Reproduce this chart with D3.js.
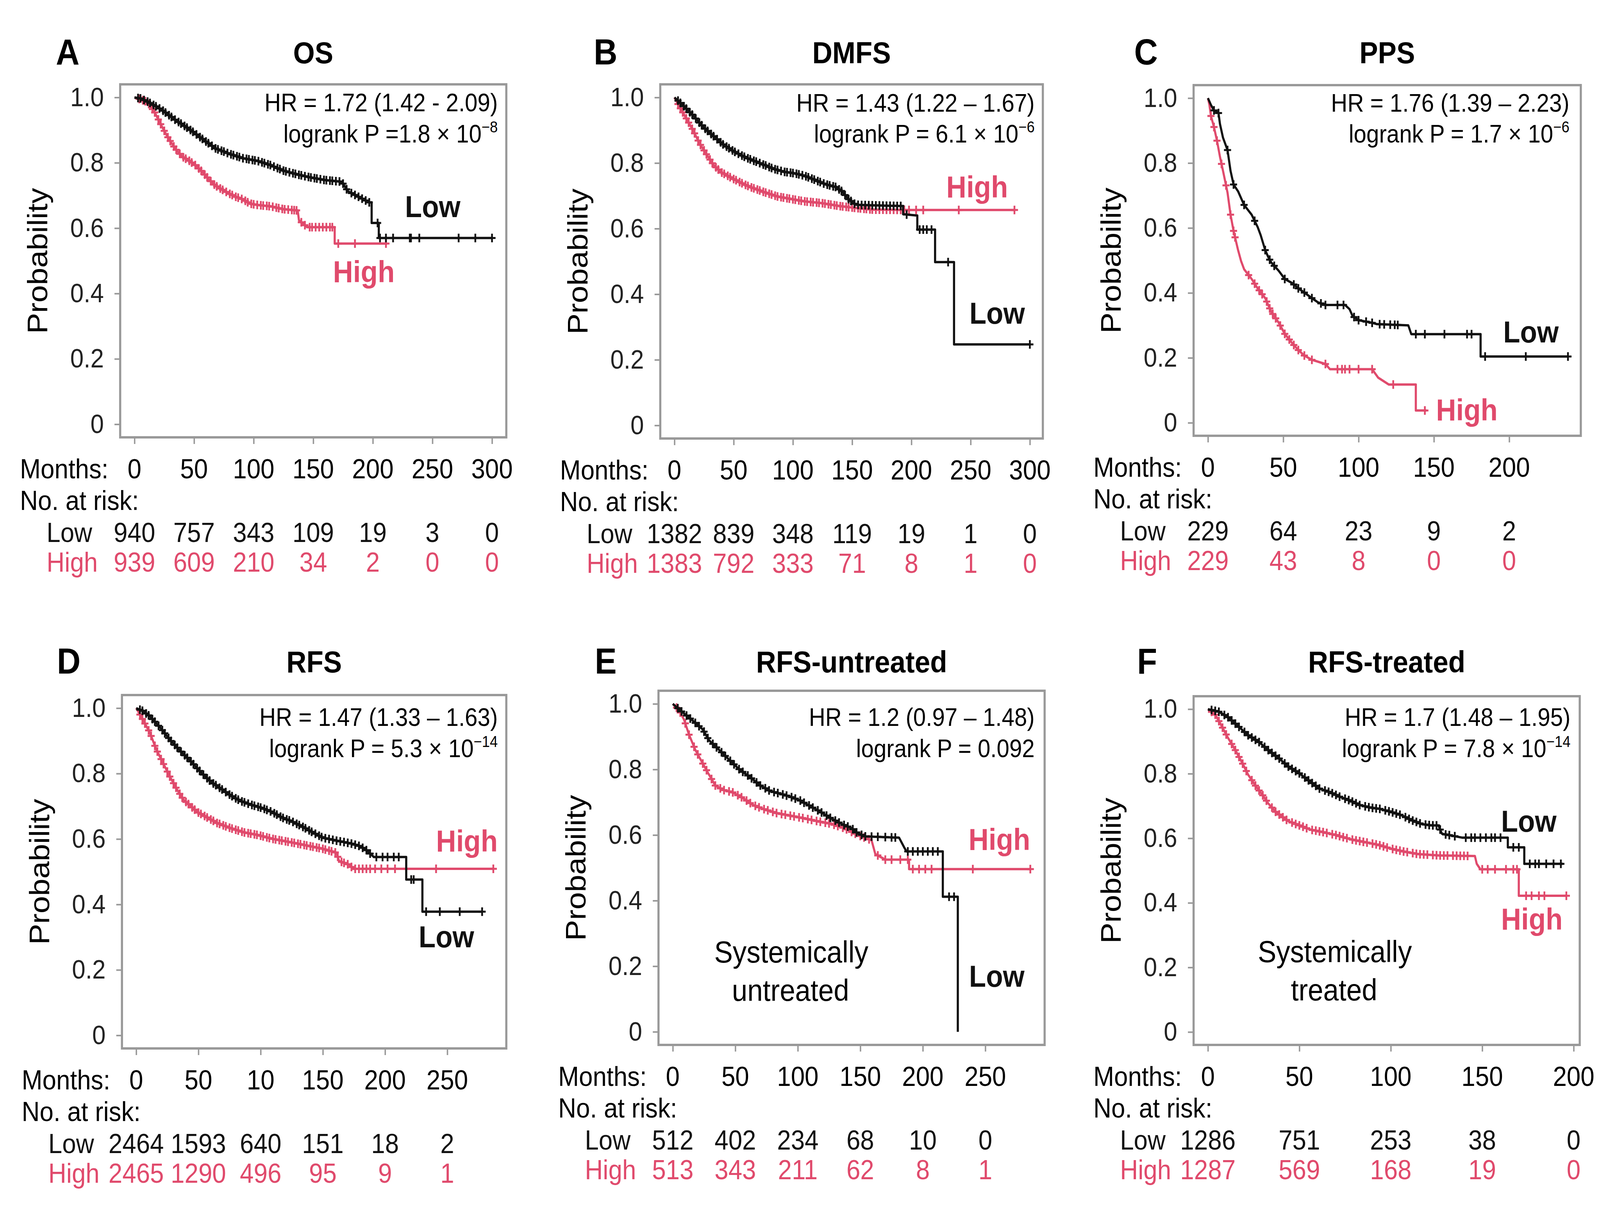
<!DOCTYPE html>
<html>
<head>
<meta charset="utf-8">
<script src="https://cdnjs.cloudflare.com/ajax/libs/d3/7.8.5/d3.min.js"></script>
<style>
  html, body { margin: 0; padding: 0; background: #fff; overflow: hidden; }
  #chart { display: block; width: 100vw; height: 100vh; }
  text { font-family: "Liberation Sans", Arial, sans-serif; }
</style>
</head>
<body>
<svg id="chart" viewBox="0 0 4500 3150" preserveAspectRatio="none"></svg>
<script>
// curves: [months, survival probability]
const osLow = [[0,1],[5,0.997],[11,0.987],[17,0.975],[23,0.962],[34,0.932],[46,0.903],[57,0.873],[68,0.844],[80,0.827],[91,0.814],[103,0.806],[114,0.793],[125,0.776],[137,0.764],[148,0.755],[160,0.747],[174,0.742],[179,0.713],[188,0.696],[197,0.679],[199,0.679],[199,0.616],[205,0.616],[205,0.570],[300,0.570]];
const osHigh = [[0,1],[6,0.993],[11,0.985],[17,0.954],[23,0.911],[28,0.878],[34,0.844],[40,0.819],[46,0.806],[51,0.793],[57,0.772],[63,0.747],[68,0.730],[74,0.717],[80,0.705],[85,0.696],[91,0.688],[97,0.675],[103,0.671],[114,0.667],[125,0.658],[137,0.654],[138,0.624],[145,0.603],[168,0.603],[168,0.553],[212,0.553]];
const osLowCens = [3,5,8,11,13,16,18,21,24,26,29,31,34,37,39,42,44,47,49,52,55,57,60,62,65,68,70,73,75,78,81,83,86,88,91,94,96,99,101,104,107,109,112,114,117,120,122,125,127,130,133,135,138,140,143,146,148,151,153,156,159,161,164,166,169,172,175,178,182,185,188,191,194,197,204,206,211,217,231,232,239,272,286,300];
const osHighCens = [4,7,9,12,15,17,20,22,25,28,30,33,35,38,41,43,46,48,51,54,56,59,61,64,67,69,72,74,77,80,82,85,87,90,93,95,98,100,103,106,108,111,113,116,119,121,124,126,129,132,134,136,140,143,147,149,152,155,158,161,164,166,171,185,211];

const dmfsLow = [[0,1],[7,0.977],[16,0.944],[24,0.911],[33,0.882],[41,0.857],[50,0.836],[59,0.819],[67,0.807],[76,0.794],[84,0.782],[93,0.773],[101,0.769],[110,0.761],[119,0.748],[127,0.736],[136,0.727],[141,0.715],[147,0.690],[153,0.673],[159,0.672],[190,0.669],[193,0.669],[193,0.644],[205,0.640],[205,0.597],[220,0.597],[220,0.498],[236,0.498],[236,0.247],[300,0.247]];
const dmfsHigh = [[0,1],[4,0.973],[10,0.936],[16,0.898],[21,0.861],[27,0.827],[33,0.794],[39,0.773],[47,0.757],[56,0.740],[64,0.727],[76,0.711],[87,0.698],[99,0.690],[110,0.683],[124,0.678],[139,0.669],[153,0.663],[167,0.658],[196,0.657],[287,0.657]];
const dmfsLowCens = [3,5,8,10,13,15,18,21,23,26,28,31,33,36,39,41,44,46,49,51,54,57,59,62,64,67,69,72,75,77,80,82,85,87,90,93,95,98,100,103,105,108,111,113,116,118,121,123,126,129,131,134,136,139,141,144,147,149,152,155,158,161,164,167,170,173,176,179,182,185,188,191,196,207,210,213,217,231,300];
const dmfsHighCens = [3,5,7,10,12,15,17,20,22,25,27,30,32,35,37,40,42,45,47,50,52,55,57,60,62,65,67,70,72,75,77,80,82,85,87,90,92,95,97,100,102,105,107,110,112,115,117,120,122,125,127,130,132,135,137,140,142,145,147,150,152,155,157,160,162,165,167,170,173,176,179,182,185,188,191,194,198,204,210,240,287];

const ppsLow = [[0,1],[2,0.979],[4,0.962],[7,0.954],[8,0.92],[10,0.878],[13,0.84],[15,0.776],[17,0.734],[20,0.713],[22,0.692],[24,0.671],[29,0.641],[33,0.603],[35,0.578],[38,0.532],[40,0.511],[42,0.494],[47,0.468],[51,0.443],[56,0.43],[60,0.414],[64,0.401],[69,0.384],[73,0.371],[78,0.363],[91,0.363],[94,0.35],[96,0.329],[100,0.316],[109,0.308],[112,0.304],[133,0.300],[135,0.273],[181,0.273],[181,0.204],[239,0.204]];
const ppsHigh = [[0,1],[1,0.979],[2,0.945],[4,0.911],[6,0.869],[8,0.819],[10,0.776],[13,0.709],[15,0.641],[17,0.591],[20,0.532],[22,0.498],[24,0.473],[29,0.443],[33,0.414],[38,0.384],[42,0.342],[47,0.308],[51,0.274],[56,0.245],[60,0.224],[64,0.207],[69,0.194],[78,0.181],[81,0.165],[109,0.165],[113,0.139],[120,0.118],[138,0.118],[138,0.038],[145,0.038]];
const ppsLowCens = [4,7,13,17,24,31,38,41,44,51,57,60,64,69,75,78,86,90,97,100,105,109,114,117,121,124,126,138,144,157,172,175,184,211,239];
const ppsHighCens = [2,4,6,9,12,15,17,18,27,31,34,36,39,41,43,45,48,51,54,57,60,64,69,78,86,89,91,94,100,109,123,144];

const rfsLow = [[0,1],[5,0.992],[11,0.975],[19,0.942],[27,0.904],[35,0.871],[44,0.837],[52,0.804],[60,0.775],[68,0.754],[76,0.733],[84,0.716],[93,0.704],[101,0.695],[109,0.683],[117,0.666],[125,0.654],[134,0.637],[142,0.620],[150,0.604],[161,0.595],[172,0.587],[180,0.578],[185,0.566],[191,0.545],[217,0.545],[217,0.476],[230,0.476],[230,0.378],[278,0.378]];
const rfsHigh = [[0,1],[5,0.967],[11,0.925],[16,0.875],[22,0.829],[27,0.791],[33,0.750],[38,0.720],[44,0.700],[49,0.683],[57,0.666],[65,0.649],[76,0.633],[87,0.620],[98,0.612],[109,0.601],[123,0.591],[136,0.581],[150,0.570],[161,0.558],[163,0.533],[172,0.520],[174,0.509],[287,0.509]];
const rfsLowCens = [3,5,8,10,13,15,18,21,23,26,28,31,33,36,39,41,44,46,49,51,54,57,59,62,64,67,69,72,75,77,80,82,85,87,90,93,95,98,100,103,105,108,111,113,116,118,121,123,126,129,131,134,136,139,141,144,147,149,152,155,158,161,164,167,170,173,176,179,182,185,188,193,198,202,207,211,221,223,233,244,260,278];
const rfsHighCens = [3,5,7,10,12,15,17,20,22,25,27,30,32,35,37,40,42,45,47,50,52,55,57,60,62,65,67,70,72,75,77,80,82,85,87,90,92,95,97,100,102,105,107,110,112,115,117,120,122,125,127,130,132,135,137,140,142,145,147,150,152,155,157,160,162,165,167,170,173,176,179,182,185,188,192,197,202,208,241,287];

const untrLow = [[0,1],[7,0.977],[15,0.952],[24,0.922],[29,0.889],[37,0.860],[45,0.830],[53,0.801],[62,0.776],[70,0.751],[78,0.734],[86,0.726],[94,0.717],[102,0.705],[110,0.688],[118,0.671],[127,0.650],[135,0.634],[143,0.621],[148,0.605],[154,0.596],[181,0.592],[185,0.563],[187,0.550],[216,0.550],[216,0.412],[228,0.412],[228,0.0]];
const untrHigh = [[0,1],[5,0.981],[9,0.952],[13,0.906],[18,0.860],[24,0.818],[29,0.784],[34,0.751],[40,0.738],[48,0.730],[56,0.713],[64,0.692],[72,0.680],[83,0.667],[94,0.659],[105,0.651],[116,0.642],[127,0.634],[137,0.621],[148,0.600],[159,0.584],[162,0.542],[170,0.525],[189,0.525],[189,0.496],[286,0.496]];
const untrLowCens = [4,7,11,14,18,21,25,28,32,35,39,42,46,49,53,56,60,63,67,70,74,77,81,84,88,91,95,98,102,105,109,112,116,119,123,126,130,133,137,140,144,147,151,154,159,164,170,175,178,188,192,196,200,204,208,212,221,225];
const untrHighCens = [3,6,10,13,17,20,24,27,31,34,38,41,45,48,52,55,59,62,66,69,73,76,80,83,87,90,94,97,101,104,108,111,115,118,122,125,129,132,136,139,143,146,150,153,157,164,170,175,182,188,192,197,202,207,240,286];

const trLow = [[0,1],[6,0.992],[11,0.975],[17,0.945],[22,0.919],[28,0.898],[33,0.873],[39,0.847],[44,0.822],[50,0.801],[56,0.775],[61,0.754],[67,0.742],[72,0.729],[78,0.716],[83,0.703],[89,0.695],[94,0.691],[100,0.682],[106,0.671],[111,0.657],[117,0.644],[122,0.640],[126,0.640],[128,0.614],[139,0.602],[164,0.602],[164,0.572],[173,0.572],[173,0.521],[194,0.521]];
const trHigh = [[0,1],[4,0.983],[7,0.953],[11,0.911],[15,0.873],[19,0.831],[22,0.797],[26,0.763],[30,0.733],[33,0.708],[37,0.682],[41,0.665],[44,0.653],[50,0.640],[56,0.627],[63,0.619],[70,0.610],[78,0.597],[85,0.589],[93,0.580],[100,0.568],[107,0.559],[115,0.551],[126,0.547],[146,0.545],[147,0.521],[149,0.504],[170,0.504],[170,0.422],[196,0.422]];
const trLowCens = [2,4,6,9,11,13,15,17,20,22,24,26,28,31,33,35,37,39,42,44,46,48,50,53,55,57,59,61,64,66,68,70,72,75,77,79,81,83,86,88,90,92,94,97,99,101,103,105,108,110,112,114,116,119,121,123,125,127,130,132,135,141,144,146,149,152,155,157,160,167,170,176,179,181,185,189,193];
const trHighCens = [2,4,6,8,10,13,15,17,19,21,24,26,28,30,32,35,37,39,41,43,46,48,50,52,54,57,59,61,63,65,68,70,72,74,76,79,81,83,85,87,90,92,94,96,98,101,103,105,107,109,112,114,116,118,120,123,125,127,129,131,134,136,138,140,142,150,153,157,163,167,169,174,177,181,184,196];

// months axis and numbers at risk
const ticks300 = [0, 50, 100, 150, 200, 250, 300];
const ticks250 = [0, 50, 100, 150, 200, 250];
const ticks200 = [0, 50, 100, 150, 200];
const rfsTickLabels = ["0", "50", "10", "150", "200", "250"];   // sic, as printed
const osRiskLow = [940, 757, 343, 109, 19, 3, 0];
const osRiskHigh = [939, 609, 210, 34, 2, 0, 0];
const dmfsRiskLow = [1382, 839, 348, 119, 19, 1, 0];
const dmfsRiskHigh = [1383, 792, 333, 71, 8, 1, 0];
const ppsRiskLow = [229, 64, 23, 9, 2];
const ppsRiskHigh = [229, 43, 8, 0, 0];
const rfsRiskLow = [2464, 1593, 640, 151, 18, 2];
const rfsRiskHigh = [2465, 1290, 496, 95, 9, 1];
const untrRiskLow = [512, 402, 234, 68, 10, 0];
const untrRiskHigh = [513, 343, 211, 62, 8, 1];
const trRiskLow = [1286, 751, 253, 38, 0];
const trRiskHigh = [1287, 569, 168, 19, 0];

const letters = ["A", "B", "C", "D", "E", "F"];
const titles = ["OS", "DMFS", "PPS", "RFS", "RFS-untreated", "RFS-treated"];
const hrTexts = ["HR = 1.72 (1.42 - 2.09)", "HR = 1.43 (1.22 \u2013 1.67)", "HR = 1.76 (1.39 \u2013 2.23)",
                 "HR = 1.47 (1.33 \u2013 1.63)", "HR = 1.2 (0.97 \u2013 1.48)", "HR = 1.7 (1.48 \u2013 1.95)"];
const pTexts = ["logrank P =1.8 \u00d7 10", "logrank P = 6.1 \u00d7 10", "logrank P = 1.7 \u00d7 10",
                "logrank P = 5.3 \u00d7 10", "logrank P = 0.092", "logrank P = 7.8 \u00d7 10"];
const pExps = ["\u22128", "\u22126", "\u22126", "\u221214", "", "\u221214"];

const RED = "#e04a6c";
const BLACK = "#111";

// layout: frame [left, top, right, bottom] in px, label anchors in data units
const panels = [
  { frame: [338, 216, 1424, 1120], xMax: 300, ticks: ticks300, tickLabels: null, low: osLow, high: osHigh,
    lowCens: osLowCens, highCens: osHighCens, riskLow: osRiskLow, riskHigh: osRiskHigh,
    letterX: 157, titleY: 162, letterY: 165, hrY: [285, 365], hrRight: 1400,
    lowLab: [227, 0.634], highLab: [166.6, 0.434] },
  { frame: [1857, 216, 2933, 1123], xMax: 299, ticks: ticks300, tickLabels: null, low: dmfsLow, high: dmfsHigh,
    lowCens: dmfsLowCens, highCens: dmfsHighCens, riskLow: dmfsRiskLow, riskHigh: dmfsRiskHigh,
    letterX: 1670, titleY: 162, letterY: 165, hrY: [286, 365], hrRight: 2910,
    lowLab: [249, 0.31], highLab: [229.5, 0.695] },
  { frame: [3357, 218, 4446, 1116], xMax: 238, ticks: ticks200, tickLabels: null, low: ppsLow, high: ppsHigh,
    lowCens: ppsLowCens, highCens: ppsHighCens, riskLow: ppsRiskLow, riskHigh: ppsRiskHigh,
    letterX: 3190, titleY: 162, letterY: 165, hrY: [286, 365], hrRight: 4414,
    lowLab: [196, 0.248], highLab: [151.4, 0.007] },
  { frame: [343, 1780, 1424, 2685], xMax: 286, ticks: ticks250, tickLabels: rfsTickLabels, low: rfsLow, high: rfsHigh,
    lowCens: rfsLowCens, highCens: rfsHighCens, riskLow: rfsRiskLow, riskHigh: rfsRiskHigh,
    letterX: 160, titleY: 1722, letterY: 1725, hrY: [1859, 1939], hrRight: 1400,
    lowLab: [227, 0.269], highLab: [241, 0.562] },
  { frame: [1852, 1769, 2938, 2676], xMax: 286, ticks: ticks250, tickLabels: null, low: untrLow, high: untrHigh,
    lowCens: untrLowCens, highCens: untrHighCens, riskLow: untrRiskLow, riskHigh: untrRiskHigh,
    letterX: 1673, titleY: 1722, letterY: 1725, hrY: [1859, 1939], hrRight: 2910,
    lowLab: [237, 0.137], highLab: [236.6, 0.554],
    note: ["Systemically", "untreated"], noteAt: [[94.8, 0.211], [94.2, 0.094]] },
  { frame: [3357, 1783, 4443, 2676], xMax: 195.5, ticks: ticks200, tickLabels: null, low: trLow, high: trHigh,
    lowCens: trLowCens, highCens: trHighCens, riskLow: trRiskLow, riskHigh: trRiskHigh,
    letterX: 3198, titleY: 1722, letterY: 1725, hrY: [1859, 1939], hrRight: 4417,
    lowLab: [160.3, 0.62], highLab: [160.3, 0.317],
    note: ["Systemically", "treated"], noteAt: [[69.4, 0.216], [69, 0.098]] }
];

function survAt(curve, t) {
  for (let i = 1; i < curve.length; i++) {
    const [t0, s0] = curve[i - 1], [t1, s1] = curve[i];
    if (t <= t1) {
      if (t1 === t0) return s0;
      return s0 + (s1 - s0) * (t - t0) / (t1 - t0);
    }
  }
  return curve[curve.length - 1][1];
}

const svg = d3.select("#chart");
svg.append("rect").attr("width", 4500).attr("height", 3150).attr("fill", "#fff");

panels.forEach((p, i) => {
  const [x0, y0, x1, y1] = p.frame;
  const x = d3.scaleLinear().domain([-0.04 * p.xMax, 1.04 * p.xMax]).range([x0, x1]);
  const y = d3.scaleLinear().domain([-0.04, 1.04]).range([y1, y0]);
  const g = svg.append("g");

  // panel letter and title
  g.append("text").attr("x", p.letterX).attr("y", p.letterY)
    .attr("font-size", 92).attr("font-weight", "bold").text(letters[i]);
  g.append("text").attr("x", (x0 + x1) / 2).attr("y", p.titleY)
    .attr("text-anchor", "middle").attr("font-size", 78).attr("font-weight", "bold").text(titles[i]);

  // y axis
  const yAxis = g.append("g").attr("transform", `translate(${x0},0)`)
    .call(d3.axisLeft(y).tickValues([0, 0.2, 0.4, 0.6, 0.8, 1.0])
      .tickFormat(d => d === 0 ? "0" : d.toFixed(1)).tickSize(16).tickPadding(30));
  yAxis.select(".domain").remove();
  yAxis.selectAll("line").attr("stroke", "#999").attr("stroke-width", 4);
  yAxis.selectAll("text").attr("font-size", 68).attr("fill", "#222")
    .attr("font-family", '"Liberation Sans", Arial, sans-serif');

  // x axis ticks
  const xAxis = g.append("g").attr("transform", `translate(0,${y1})`)
    .call(d3.axisBottom(x).tickValues(p.ticks).tickFormat("").tickSize(17));
  xAxis.select(".domain").remove();
  xAxis.selectAll("line").attr("stroke", "#999").attr("stroke-width", 4);

  g.append("text").attr("transform", `translate(${x0 - 205},${(y0 + y1) / 2}) rotate(-90)`)
    .attr("text-anchor", "middle").attr("font-size", 80).text("Probability");

  // curves with censoring marks
  const line = d3.line().x(d => x(d[0])).y(d => y(d[1]));
  const series = [
    { curve: p.high, cens: p.highCens, color: RED },
    { curve: p.low, cens: p.lowCens, color: BLACK }
  ];
  series.forEach(s => {
    g.append("path").datum(s.curve).attr("d", line)
      .attr("fill", "none").attr("stroke", s.color).attr("stroke-width", 6)
      .attr("stroke-linejoin", "round");
    g.selectAll(null).data(s.cens).enter().append("path")
      .attr("transform", t => `translate(${x(t)},${y(survAt(s.curve, t))})`)
      .attr("d", "M-10,0H10M0,-11V11")
      .attr("stroke", s.color).attr("stroke-width", 5).attr("fill", "none");
  });

  // frame on top
  g.append("rect").attr("x", x0).attr("y", y0).attr("width", x1 - x0).attr("height", y1 - y0)
    .attr("fill", "none").attr("stroke", "#999").attr("stroke-width", 6);

  // statistics
  g.append("text").attr("x", p.hrRight).attr("y", p.hrY[0]).attr("text-anchor", "end")
    .attr("font-size", 64).text(hrTexts[i]);
  const pt = g.append("text").attr("x", p.hrRight).attr("y", p.hrY[1]).attr("text-anchor", "end")
    .attr("font-size", 64);
  pt.append("tspan").text(pTexts[i]);
  if (pExps[i]) pt.append("tspan").attr("font-size", 40).attr("dy", -26).text(pExps[i]);

  // group labels
  g.append("text").attr("x", x(p.lowLab[0])).attr("y", y(p.lowLab[1]))
    .attr("font-size", 78).attr("font-weight", "bold").attr("fill", BLACK).text("Low");
  g.append("text").attr("x", x(p.highLab[0])).attr("y", y(p.highLab[1]))
    .attr("font-size", 78).attr("font-weight", "bold").attr("fill", RED).text("High");

  if (p.note) {
    p.note.forEach((txt, k) => {
      g.append("text").attr("x", x(p.noteAt[k][0])).attr("y", y(p.noteAt[k][1]))
        .attr("text-anchor", "middle").attr("font-size", 78).text(txt);
    });
  }

  // months row and numbers at risk
  const fs = 70;
  g.append("text").attr("x", x0 - 282).attr("y", y1 + 105).attr("font-size", fs).text("Months:");
  g.selectAll(null).data(p.ticks).enter().append("text")
    .attr("x", d => x(d)).attr("y", y1 + 105).attr("text-anchor", "middle").attr("font-size", fs)
    .text((d, k) => p.tickLabels ? p.tickLabels[k] : d);
  g.append("text").attr("x", x0 - 282).attr("y", y1 + 186).attr("font-size", fs).text("No. at risk:");
  g.append("text").attr("x", x0 - 207).attr("y", y1 + 268).attr("font-size", fs).attr("fill", BLACK).text("Low");
  g.append("text").attr("x", x0 - 207).attr("y", y1 + 344).attr("font-size", fs).attr("fill", RED).text("High");
  g.selectAll(null).data(p.riskLow).enter().append("text")
    .attr("x", (d, k) => x(p.ticks[k])).attr("y", y1 + 268).attr("text-anchor", "middle")
    .attr("font-size", fs).attr("fill", BLACK).text(d => d);
  g.selectAll(null).data(p.riskHigh).enter().append("text")
    .attr("x", (d, k) => x(p.ticks[k])).attr("y", y1 + 344).attr("text-anchor", "middle")
    .attr("font-size", fs).attr("fill", RED).text(d => d);
});
</script>
</body>
</html>
